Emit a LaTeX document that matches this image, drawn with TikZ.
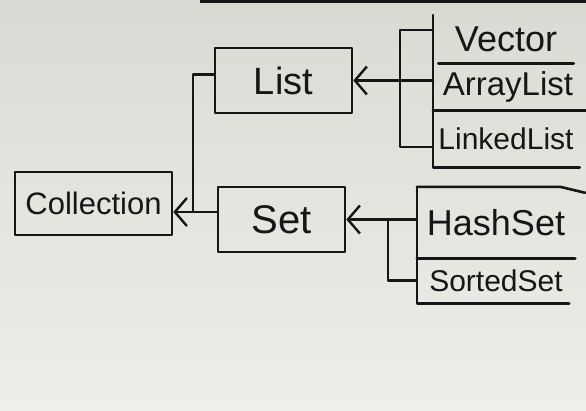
\documentclass[tikz,border=0pt]{standalone}
\usepackage{fontspec}
\setmainfont{Liberation Sans}
\usetikzlibrary{arrows.meta}
\definecolor{ink}{HTML}{161616}
\definecolor{paperA}{HTML}{D9DBD3}
\definecolor{paperB}{HTML}{E1E3DC}
\definecolor{paperC}{HTML}{EEEEEA}
\tikzset{
  pen/.style={draw=ink, line width=2.6pt, line cap=round, line join=round},
  box/.style={pen, rectangle, inner sep=0pt, text=ink},
  cell/.style={rectangle, inner sep=0pt, text=ink},
  arr/.style={pen, -{Straight Barb[length=12pt,width=28pt,line width=2.4pt]}},
}
\begin{document}
\begin{tikzpicture}[x=1pt,y=-1pt]
\useasboundingbox (0,0) rectangle (586,410);
\shade[top color=paperA, middle color=paperB, bottom color=paperC] (0,0) rectangle (586,410);
% top edge of frame
\draw[draw=ink, line width=4pt] (200,1) -- (586,1);

% main boxes
\node[box, minimum width=157pt, minimum height=63pt, font=\fontsize{31}{32}\selectfont] (coll) at (93.5,203.5) {Collection};
\node[box, minimum width=137pt, minimum height=65pt, font=\fontsize{38}{40}\selectfont] (list) at (283.5,80.5) {List};
\node[box, minimum width=127pt, minimum height=65pt, font=\fontsize{40}{42}\selectfont] (set) at (281.5,219.5) {Set};

% right column cells
\node[cell, minimum width=147pt, minimum height=48pt, font=\fontsize{36}{38}\selectfont] (vec) at (506,39) {Vector};
\node[cell, minimum width=147pt, minimum height=47pt, font=\fontsize{33}{35}\selectfont] (al) at (508,86.5) {ArrayList};
\node[cell, minimum width=147pt, minimum height=57pt, font=\fontsize{30}{32}\selectfont] (ll) at (506,138.5) {LinkedList};
\node[cell, minimum width=158pt, minimum height=71pt, font=\fontsize{36}{38}\selectfont] (hs) at (496,222.5) {HashSet};
\node[cell, minimum width=158pt, minimum height=45pt, font=\fontsize{30}{32}\selectfont] (ss) at (496,280.5) {SortedSet};

% junctions
\coordinate (ctop) at (433,15);
\coordinate (lbt) at (400,30);
\coordinate (lbb) at (400,147);
\coordinate (sbt) at (388,219.5);
\coordinate (cj) at (193,212);

% cell borders
\draw[pen] (ctop) -- (ll.south west -| ctop) -- (ll.south east);
\draw[pen] ([xshift=6pt]vec.south west) -- ([xshift=-6pt]vec.south east);
\draw[pen] (al.south west -| ctop) -- ([xshift=4pt]al.south east);
\draw[pen] (hs.north west) -- ([xshift=-15pt]hs.north east) -- ([xshift=10pt,yshift=-6pt]hs.north east);
\draw[pen] (hs.north west) -- (ss.south west) -- ([xshift=-6pt]ss.south east);
\draw[pen] (hs.south west) -- (hs.south east);

% connectors
\draw[arr] (set.west |- cj) -- (coll.east |- cj);
\draw[pen] ([yshift=6pt]list.west) -| (cj);
\draw[arr] (ctop |- list.east) -- (list.east);
\draw[pen] (lbt -| ctop) -- (lbt) -- (lbb) -- (lbb -| ctop);
\draw[arr] (hs.west |- set.east) -- (set.east);
\draw[pen] (sbt) |- (ss.west);
\end{tikzpicture}
\end{document}
